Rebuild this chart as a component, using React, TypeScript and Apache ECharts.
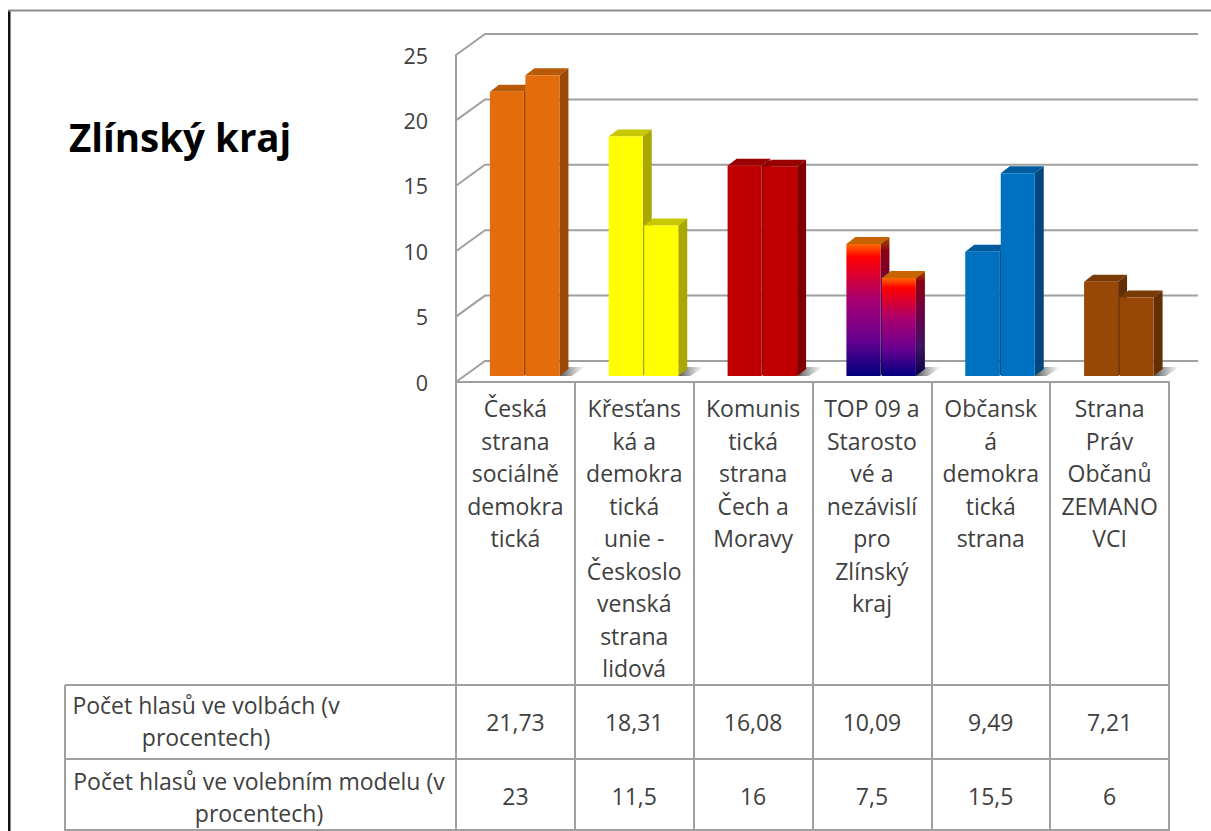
import React, { useEffect, useRef } from "react";
import * as echarts from "echarts";

const categories = [
  "Česká\nstrana\nsociálně\ndemokra\ntická",
  "Křesťans\nká a\ndemokra\ntická\nunie -\nČeskoslo\nvenská\nstrana\nlidová",
  "Komunis\ntická\nstrana\nČech a\nMoravy",
  "TOP 09 a\nStarosto\nvé a\nnezávislí\npro\nZlínský\nkraj",
  "Občansk\ná\ndemokra\ntická\nstrana",
  "Strana\nPráv\nObčanů\nZEMANO\nVCI",
];
const votesElection = [21.73, 18.31, 16.08, 10.09, 9.49, 7.21];
const votesModel = [23, 11.5, 16, 7.5, 15.5, 6];
const yTicks = [0, 5, 10, 15, 20, 25];
const rowLabelElection = "Počet hlasů ve volbách (v\nprocentech)";
const rowLabelModel = "Počet hlasů ve volebním modelu (v\nprocentech)";
const chartTitle = "Zlínský kraj";

const faceColors = ["#E46C0A", "#FFFF00", "#C00000", "gradient", "#0070C0", "#984806"];
const topColors = ["#B85A08", "#C8C800", "#990000", "#C86400", "#005C9E", "#7A3A05"];
const sideColors = ["#9A4A06", "#A8A800", "#800000", "gradient", "#00487C", "#632F04"];

const FONT = "Open Sans";
const TEXT = "#404040";
const LINE = "#a0a0a0";
const FS = 23;
const DEPTH_X = 29;
const DEPTH_Y = 21;
const BAR_W = 34;
const BAR_DX = 9;
const BAR_DY = 7;
const BASE_LIFT = 6;
const GROUP_SHIFT = 9;

function grad(dark: boolean) {
  const s = dark
    ? ["#A85000", "#8C0010", "#6A0048", "#3C1460", "#0A0048"]
    : ["#FF6A00", "#FF0000", "#A80070", "#6A0090", "#00007E"];
  return new echarts.graphic.LinearGradient(0, 0, 0, 1, [
    { offset: 0, color: s[0] },
    { offset: 0.1, color: s[1] },
    { offset: 0.42, color: s[2] },
    { offset: 0.72, color: s[3] },
    { offset: 1, color: s[4] },
  ]);
}

function barRender(slot: number) {
  return (params: any, api: any) => {
    const i = api.value(0);
    const v = api.value(1);
    const [cx, yTop0] = api.coord([i, v]);
    const [, y0] = api.coord([i, 0]);
    const left = cx + GROUP_SHIFT + (slot === 0 ? -BAR_W - 0.5 : 1);
    const right = left + BAR_W;
    const top = yTop0 - BASE_LIFT;
    const base = y0 - BASE_LIFT;
    const front = faceColors[i] === "gradient" ? grad(false) : faceColors[i];
    const side = sideColors[i] === "gradient" ? grad(true) : sideColors[i];
    const children: any[] = [];
    if (slot === 1) {
      children.push({
        type: "polygon",
        shape: {
          points: [
            [right, base],
            [right + BAR_DX, base - BAR_DY - 2],
            [right + 26, base - BAR_DY - 2],
            [right + 12, base],
          ],
        },
        style: {
          fill: new echarts.graphic.LinearGradient(0, 0, 1, 0, [
            { offset: 0, color: "rgba(50,50,50,0.85)" },
            { offset: 1, color: "rgba(120,120,120,0)" },
          ]),
        },
      });
    }
    children.push(
      {
        type: "polygon",
        shape: {
          points: [
            [left, top],
            [left + BAR_DX, top - BAR_DY],
            [right + BAR_DX, top - BAR_DY],
            [right, top],
          ],
        },
        style: { fill: topColors[i] },
      },
      {
        type: "polygon",
        shape: {
          points: [
            [right, top],
            [right + BAR_DX, top - BAR_DY],
            [right + BAR_DX, base - BAR_DY],
            [right, base],
          ],
        },
        style: { fill: side },
      },
      {
        type: "rect",
        shape: { x: left, y: top, width: BAR_W, height: base - top },
        style: { fill: front },
      }
    );
    return { type: "group", children };
  };
}

function wallRender(params: any, api: any) {
  const v = api.value(1);
  const cs = params.coordSys;
  const y = api.coord([0, v])[1];
  return {
    type: "polyline",
    shape: {
      points: [
        [cs.x, y],
        [cs.x + DEPTH_X, y - DEPTH_Y],
        [cs.x + cs.width + DEPTH_X, y - DEPTH_Y],
      ],
    },
    style: { fill: "none", stroke: LINE, lineWidth: 2 },
  };
}

function cellRender(textY: number) {
  return (params: any, api: any) => {
    const x = api.coord([api.value(0), 0])[0];
    return {
      type: "text",
      style: {
        x,
        y: textY,
        text: String(api.value(1)).replace(".", ","),
        align: "center",
        verticalAlign: "middle",
        fontFamily: FONT,
        fontSize: FS,
        fill: TEXT,
      },
    };
  };
}

const pairs = (arr: number[]) => arr.map((v, i) => [i, v]);

function tableLine(x1: number, y1: number, x2: number, y2: number) {
  return {
    type: "line",
    shape: { x1, y1, x2, y2 },
    style: { stroke: LINE, lineWidth: 2 },
    z: 5,
  };
}

function rowLabel(text: string, x: number, y: number) {
  return {
    type: "text",
    style: {
      text,
      x,
      y,
      align: "center",
      verticalAlign: "middle",
      fontFamily: FONT,
      fontSize: FS,
      lineHeight: 32,
      fill: TEXT,
    },
    z: 6,
  };
}

export default function App() {
  const ref = useRef<HTMLDivElement>(null);
  useEffect(() => {
    const chart = echarts.init(ref.current!, undefined, { renderer: "svg" });
    const noPointer = { silent: true, clip: false, coordinateSystem: "cartesian2d" };
    chart.setOption({
      animation: false,
      backgroundColor: "#ffffff",
      grid: { left: 456, right: 42, top: 55, bottom: 449, containLabel: false },
      xAxis: {
        type: "category",
        data: categories,
        boundaryGap: true,
        axisLine: { show: true, lineStyle: { color: LINE, width: 2 } },
        axisTick: { show: true, alignWithLabel: false, length: 449, lineStyle: { color: LINE, width: 2 } },
        axisLabel: {
          interval: 0,
          hideOverlap: false,
          margin: 10,
          verticalAlign: "top",
          fontFamily: FONT,
          fontSize: FS,
          lineHeight: 32.5,
          color: TEXT,
        },
      },
      yAxis: {
        type: "value",
        min: 0,
        max: 25,
        interval: 5,
        splitLine: { show: false },
        axisTick: { show: false },
        axisLine: { show: true, lineStyle: { color: LINE, width: 2 } },
        axisLabel: { margin: 28, fontFamily: FONT, fontSize: 21.5, color: TEXT },
      },
      series: [
        { ...noPointer, type: "custom", name: "Mřížka", data: yTicks.map((v) => [0, v]), renderItem: wallRender, z: 1 },
        { ...noPointer, type: "custom", name: "Počet hlasů ve volbách", data: pairs(votesElection), renderItem: barRender(0), z: 2 },
        { ...noPointer, type: "custom", name: "Počet hlasů ve volebním modelu", data: pairs(votesModel), renderItem: barRender(1), z: 3 },
        { ...noPointer, type: "custom", name: "Tabulka volby", data: pairs(votesElection), renderItem: cellRender(722), z: 6 },
        { ...noPointer, type: "custom", name: "Tabulka model", data: pairs(votesModel), renderItem: cellRender(796), z: 6 },
      ],
      graphic: [
        { type: "rect", shape: { x: 8, y: 10, width: 2.5, height: 821 }, style: { fill: "#111111" }, z: 7 },
        { type: "rect", shape: { x: 8, y: 9.5, width: 1203, height: 2 }, style: { fill: "#8c8c8c" }, z: 7 },
        {
          type: "text",
          style: {
            text: chartTitle,
            x: 69,
            y: 137,
            verticalAlign: "middle",
            fontFamily: FONT,
            fontWeight: "bold",
            fontSize: 38.5,
            fill: "#000000",
          },
          z: 7,
        },
        tableLine(65, 685, 1169, 685),
        tableLine(65, 759, 1169, 759),
        tableLine(65, 830, 1169, 830),
        tableLine(65, 685, 65, 831),
        rowLabel(rowLabelElection, 206, 721),
        rowLabel(rowLabelModel, 259, 797),
      ],
    });
    return () => chart.dispose();
  }, []);
  return (
    <div
      ref={ref}
      style={{ position: "fixed", left: 0, top: 0, width: 1211, height: 831 }}
    />
  );
}
